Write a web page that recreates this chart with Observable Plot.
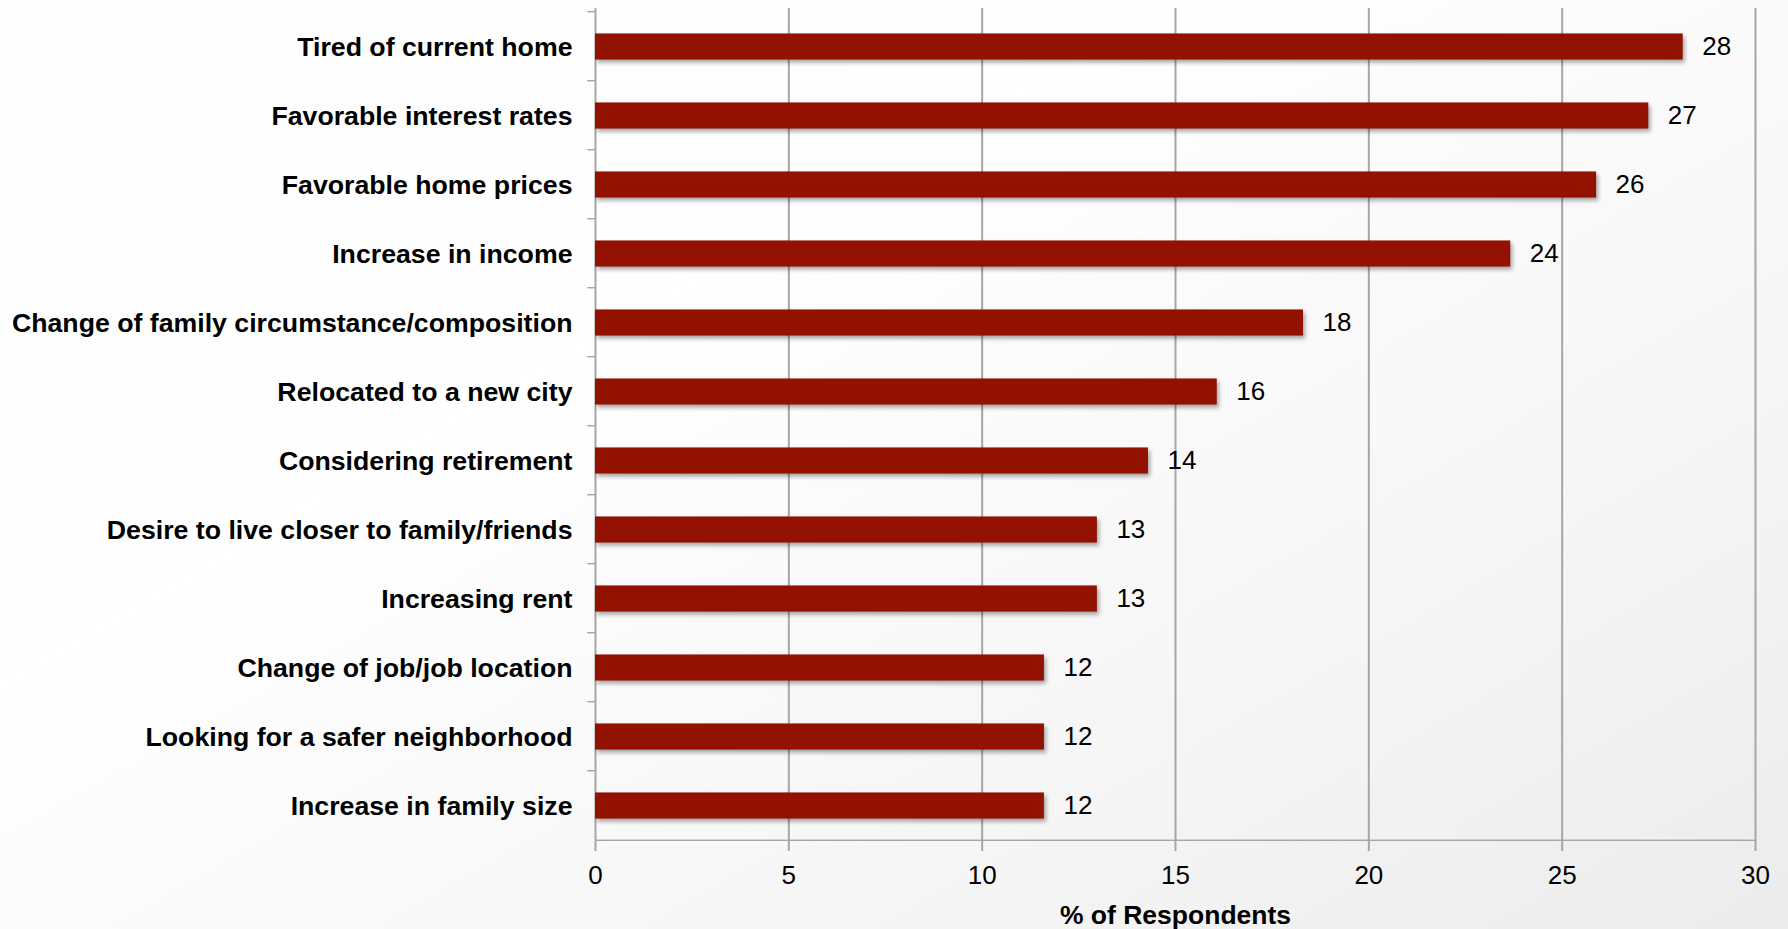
<!DOCTYPE html>
<html>
<head>
<meta charset="utf-8">
<script src="https://cdn.jsdelivr.net/npm/d3@7"></script>
<script src="https://cdn.jsdelivr.net/npm/@observablehq/plot@0.6"></script>
<style>
  html, body { margin: 0; padding: 0; }
  body {
    width: 1788px; height: 929px; overflow: hidden;
    background: linear-gradient(150deg, #fdfdfd 0%, #ffffff 35%, #f6f6f6 70%, #ececec 100%);
    font-family: "Liberation Sans", Arial, sans-serif;
  }
  svg { background: transparent !important; }
  g[aria-label="bar"] { filter: drop-shadow(2px 3px 2px rgba(0,0,0,0.35)); }
</style>
</head>
<body>
<div id="chart"></div>
<script>
const categories = [
  "Tired of current home",
  "Favorable interest rates",
  "Favorable home prices",
  "Increase in income",
  "Change of family circumstance/composition",
  "Relocated to a new city",
  "Considering retirement",
  "Desire to live closer to family/friends",
  "Increasing rent",
  "Change of job/job location",
  "Looking for a safer neighborhood",
  "Increase in family size"
];
const values = [28.13, 27.24, 25.89, 23.67, 18.31, 16.08, 14.30, 12.98, 12.98, 11.61, 11.61, 11.61];
const valueLabels = ["28", "27", "26", "24", "18", "16", "14", "13", "13", "12", "12", "12"];
const xTicks = [0, 5, 10, 15, 20, 25, 30];
const xLabel = "% of Respondents";

const data = categories.map((c, i) => ({category: c, value: values[i], label: valueLabels[i]}));

const W = 1788, H = 929, mT = 8, mB = 86, mL = 595, mR = 33;
const step = (H - mT - mB) / categories.length;
const barH = 26.7;
const inset = (step - barH) / 2;
const gray = "#a6a6a6";
const font = "Liberation Sans, Arial, sans-serif";

const chart = Plot.plot({
  width: W,
  height: H,
  marginTop: mT,
  marginBottom: mB,
  marginLeft: mL,
  marginRight: mR,
  style: {background: "transparent", fontFamily: font, color: "#000"},
  x: {domain: [0, 30]},
  y: {domain: categories, padding: 0},
  marks: [
    Plot.gridX(xTicks.slice(1), {stroke: gray, strokeOpacity: 1, strokeWidth: 2}),
    Plot.ruleX([0], {stroke: gray, strokeWidth: 2}),
    // category tick marks on the y axis (band boundaries)
    Plot.rect(data, {y: "category", x1: -0.2, x2: 0, insetBottom: step - 1, insetTop: -1, fill: gray}),
    Plot.rect(data.slice(-1), {y: "category", x1: 0, x2: 30, insetTop: step - 1, insetBottom: -1, fill: gray}),
    Plot.barX(data, {y: "category", x: "value", fill: "#931100", insetTop: inset, insetBottom: inset}),
    Plot.text(data, {y: "category", x: "value", text: "label", dx: 19, textAnchor: "start", fontSize: 26, fill: "#000", fontFamily: font}),
    Plot.axisY({tickSize: 0, tickPadding: 23, fontSize: 26.7, fontWeight: "bold", fill: "#000", label: null, fontFamily: font}),
    Plot.axisX({ticks: xTicks, tickSize: 8, tickPadding: 14, fontSize: 26, stroke: gray, strokeWidth: 2, strokeOpacity: 1, fill: "#000", label: null, fontFamily: font}),
    Plot.text([xLabel], {frameAnchor: "bottom", dy: 80.5, text: d => d, fontSize: 26.5, fontWeight: "bold", fill: "#000", textAnchor: "middle", fontFamily: font})
  ]
});
document.getElementById("chart").appendChild(chart);
</script>
</body>
</html>
